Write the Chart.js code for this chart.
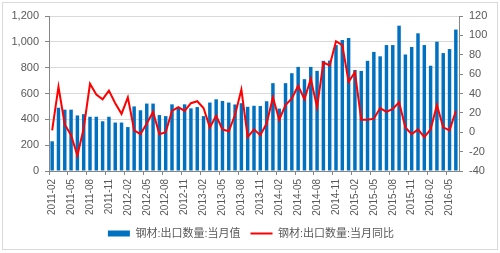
<!DOCTYPE html>
<html>
<head>
<meta charset="utf-8">
<script src="https://cdn.jsdelivr.net/npm/chart.js@4/dist/chart.umd.min.js"></script>
<style>
  html, body { margin: 0; padding: 0; background: #fff; }
  #wrap { position: relative; width: 500px; height: 253px; }
  #frame { position: absolute; left: 2px; top: 2px; width: 494px; height: 246px; border: 1px solid #d9d9d9; pointer-events: none; }
</style>
</head>
<body>
<div id="wrap">
  <canvas id="myChart1" width="500" height="253"></canvas>
  <div id="frame"></div>
</div>
<script>
// 月份
const months = [
  '2011-02','2011-03','2011-04','2011-05','2011-06','2011-07','2011-08','2011-09','2011-10','2011-11','2011-12',
  '2012-01','2012-02','2012-03','2012-04','2012-05','2012-06','2012-07','2012-08','2012-09','2012-10','2012-11','2012-12',
  '2013-01','2013-02','2013-03','2013-04','2013-05','2013-06','2013-07','2013-08','2013-09','2013-10','2013-11','2013-12',
  '2014-01','2014-02','2014-03','2014-04','2014-05','2014-06','2014-07','2014-08','2014-09','2014-10','2014-11','2014-12',
  '2015-01','2015-02','2015-03','2015-04','2015-05','2015-06','2015-07','2015-08','2015-09','2015-10','2015-11','2015-12',
  '2016-01','2016-02','2016-03','2016-04','2016-05','2016-06'
];
// 钢材:出口数量:当月值 (万吨)
const exportQty = [
  230, 490, 475, 475, 430, 440, 420, 420, 385, 420, 375,
  375, 340, 500, 470, 522, 522, 433, 425, 516, 495, 516, 485,
  495, 425, 530, 555, 542, 530, 515, 525, 497, 505, 503, 540,
  680, 483, 680, 757, 806, 711, 806, 775, 853, 855, 975, 1015,
  1030, 782, 775, 853, 922, 888, 975, 975, 1125, 902, 960, 1066,
  975, 815, 1001, 913, 944, 1095
];
// 钢材:出口数量:当月同比 (%)
const exportYoy = [
  2, 47, 8, -3, -24, 4, 50, 39, 34, 43, 30,
  19, 36, 2, -2, 9, 21, -2, 0, 22, 26, 22, 30,
  32, 25, 5, 17, 3, 1, 18, 44, -5, 3, -3, 9,
  36, 13, 28, 35, 48, 34, 55, 26, 72, 69, 94, 90,
  52, 62, 13, 13, 14, 25, 21, 24, 31, 5, -2, 3,
  -5, 3, 28, 5, 2, 22
];
const leftTicks = [0, 200, 400, 600, 800, 1000, 1200];
const rightTicks = [-40, -20, 0, 20, 40, 60, 80, 100, 120];

const tickColor = '#595959';
const font = { family: "'Liberation Sans', 'Noto Sans CJK SC', sans-serif", size: 11 };

new Chart(document.getElementById('myChart1'), {
  type: 'bar',
  data: {
    labels: months,
    datasets: [{
      type: 'bar',
      label: '钢材:出口数量:当月值',
      data: exportQty,
      backgroundColor: '#0070C0',
      borderWidth: 0,
      categoryPercentage: 1,
      barPercentage: 0.55,
      yAxisID: 'y',
      order: 2,
      pointStyle: 'rect'
    }, {
      type: 'line',
      label: '钢材:出口数量:当月同比',
      data: exportYoy,
      borderColor: '#FF0000',
      backgroundColor: '#FF0000',
      borderWidth: 2,
      pointRadius: 0,
      tension: 0,
      yAxisID: 'y1',
      order: 1,
      pointStyle: 'line'
    }]
  },
  options: {
    responsive: false,
    animation: false,
    layout: { padding: { left: 4, right: 2, top: 16, bottom: 4 } },
    plugins: {
      tooltip: { enabled: false },
      legend: {
        position: 'bottom',
        labels: {
          usePointStyle: true,
          pointStyleWidth: 22,
          boxHeight: 6,
          padding: 10,
          color: tickColor,
          font: font,
          sort: (a, b) => a.datasetIndex - b.datasetIndex
        }
      }
    },
    scales: {
      x: {
        grid: {
          offset: true,
          drawOnChartArea: false,
          tickLength: 4,
          color: (ctx) => (ctx.index % 3 === 0 ? '#868686' : 'rgba(0,0,0,0)')
        },
        border: { color: '#868686' },
        ticks: {
          autoSkip: false,
          maxRotation: 90,
          minRotation: 90,
          padding: 4,
          color: tickColor,
          font: { family: font.family, size: 10 },
          callback: function (val, i) { return i % 3 === 0 ? months[i] : ''; }
        },
        afterFit: function (s) { s.height = 47; }
      },
      y: {
        position: 'left',
        min: 0, max: 1200,
        afterBuildTicks: function (s) { s.ticks = leftTicks.map(v => ({ value: v })); },
        grid: { color: '#D9D9D9', tickLength: 4, tickColor: '#868686' },
        border: { color: '#868686' },
        ticks: {
          color: tickColor, font: font, padding: 6,
          callback: v => v.toLocaleString('en-US')
        },
        afterFit: function (s) { s.width = 45; }
      },
      y1: {
        position: 'right',
        min: -40, max: 120,
        afterBuildTicks: function (s) { s.ticks = rightTicks.map(v => ({ value: v })); },
        grid: { drawOnChartArea: false, tickLength: 4, color: '#868686' },
        border: { color: '#868686' },
        ticks: { color: tickColor, font: font, padding: 6 },
        afterFit: function (s) { s.width = 39; }
      }
    }
  }
});
</script>
</body>
</html>
